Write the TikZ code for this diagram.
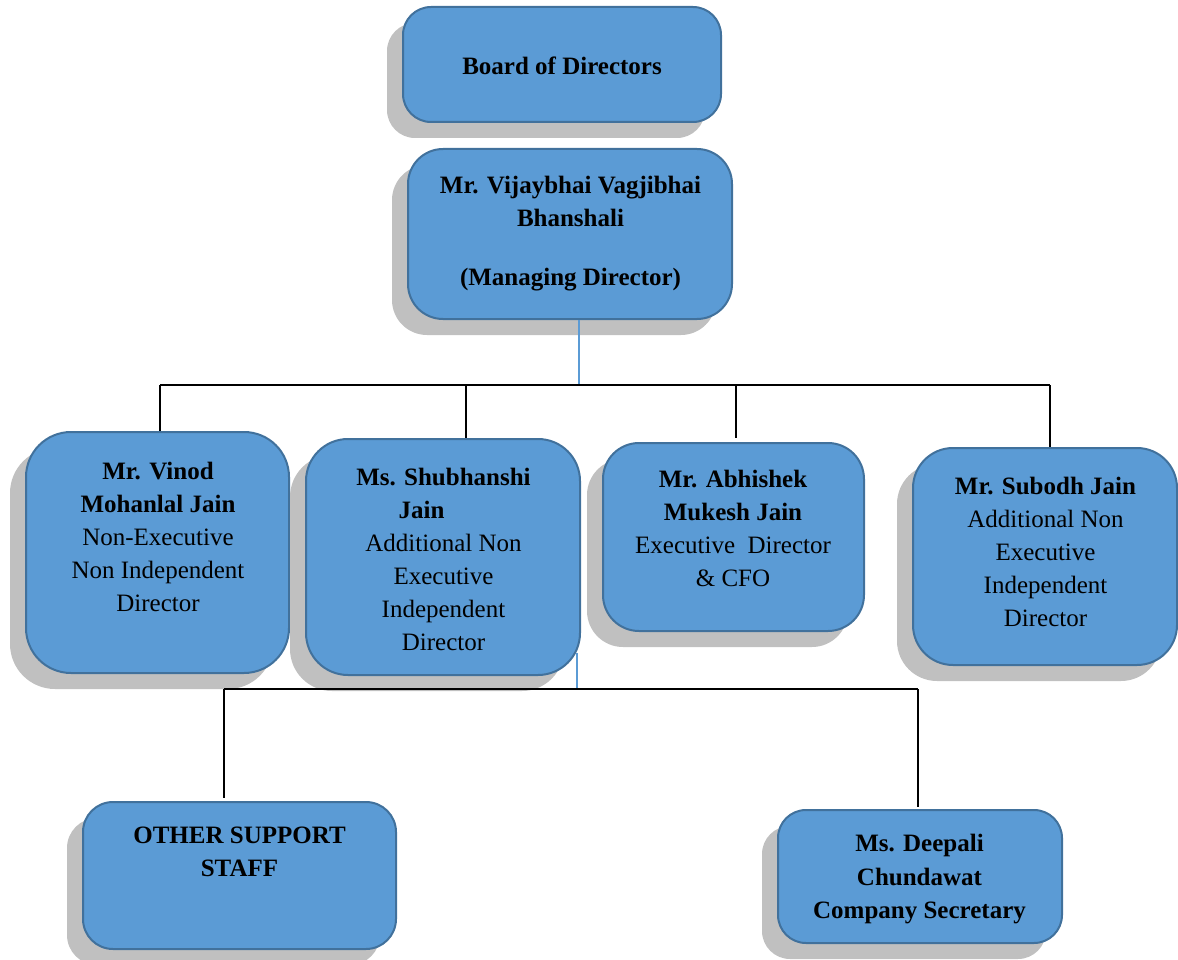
\documentclass[tikz,border=0pt]{standalone}
\usepackage{fontspec}
\setmainfont{Liberation Serif}
\usetikzlibrary{shadows}
\definecolor{boxfill}{HTML}{5B9BD5}
\definecolor{boxedge}{HTML}{41719C}
\definecolor{shadowgray}{HTML}{C0C0C0}
\definecolor{linkblue}{HTML}{5B9BD5}
\newcommand{\firstln}{\rule{0pt}{18pt}}
\tikzset{
  orgbox/.style={draw=boxedge, line width=2pt, fill=boxfill, inner sep=0pt,
    drop shadow={shadow xshift=-16pt, shadow yshift=-16pt, fill=shadowgray, opacity=1}},
  orgtext/.style={anchor=north, inner sep=0pt, align=center, text=black,
    font=\fontsize{25}{33}\selectfont},
  conn/.style={line width=2pt, black},
  thinlink/.style={line width=1.2pt, linkblue}
}
\begin{document}
\begin{tikzpicture}[x=1pt,y=-1pt]
\useasboundingbox (0,0) rectangle (1178,960);
% boxes
\node[orgbox, rounded corners=28pt, minimum width=318pt, minimum height=115pt] (bod) at (562,64.5) {};
\node[orgbox, rounded corners=35pt, minimum width=324pt, minimum height=170pt] (md) at (570,234) {};
\node[orgbox, rounded corners=45pt, minimum width=263pt, minimum height=241pt] (vin) at (157.5,552.5) {};
\node[orgbox, rounded corners=42pt, minimum width=274pt, minimum height=236pt] (shu) at (443,557) {};
\node[orgbox, rounded corners=36pt, minimum width=261pt, minimum height=188pt] (abh) at (733.5,537) {};
\node[orgbox, rounded corners=40pt, minimum width=264pt, minimum height=217pt] (sub) at (1045,556.5) {};
\node[orgbox, rounded corners=30pt, minimum width=313pt, minimum height=147pt] (oth) at (239.5,875.5) {};
\node[orgbox, rounded corners=28pt, minimum width=284pt, minimum height=133pt] (dee) at (920,876.5) {};
% texts
\node[orgtext, font=\fontsize{25}{33}\selectfont\bfseries] (tbod) at (562,56.5) {\firstln Board of Directors};
\node[orgtext, font=\fontsize{25}{33}\selectfont\bfseries] (tmd) at (570.5,175) {\firstln Mr. Vijaybhai Vagjibhai\\ Bhanshali\\[26pt] (Managing Director)};
\node[orgtext] (tvin) at (158,461.5) {\firstln\textbf{Mr. Vinod}\\ \textbf{Mohanlal Jain}\\ Non-Executive\\ Non Independent\\ Director};
\node[orgtext] (tshu) at (443.5,467) {\firstln\textbf{Ms. Shubhanshi}\\ \textbf{Jain}\rule{44pt}{0pt}\\ Additional Non\\ Executive\\ Independent\\ Director};
\node[orgtext] (tabh) at (733,469.5) {\firstln\textbf{Mr. Abhishek}\\ \textbf{Mukesh Jain}\\ Executive\ \ Director\\ \& CFO};
\node[orgtext] (tsub) at (1045.5,476) {\firstln\textbf{Mr. Subodh Jain}\\ Additional Non\\ Executive\\ Independent\\ Director};
\node[orgtext, font=\fontsize{25}{33}\selectfont\bfseries] (toth) at (239.5,825.5) {\firstln OTHER SUPPORT\\ STAFF};
\node[orgtext, font=\fontsize{25}{33.5}\selectfont\bfseries] (tdee) at (919.5,833.5) {\firstln Ms. Deepali\\ Chundawat\\ Company Secretary};
% connector junctions
\coordinate (j1) at (579,385);
\coordinate (barL) at (160,385);
\coordinate (barR) at (1050,385);
\coordinate (d2) at (466,385);
\coordinate (d3) at (736,385);
\coordinate (d3e) at (736,438);
\coordinate (j2t) at (577,653);
\coordinate (j2) at (577,688);
\coordinate (bbL) at (224,689);
\coordinate (bbR) at (918,689);
\coordinate (d5e) at (224,798);
\coordinate (d6e) at (918,807);
% connectors
\draw[thinlink] (j1 |- md.south) -- (j1);
\draw[conn] (barL) -- (barR);
\draw[conn] (barL) -- (barL |- vin.north);
\draw[conn] (d2) -- (d2 |- shu.north);
\draw[conn] (d3) -- (d3e);
\draw[conn] (barR) -- (barR |- sub.north);
\draw[thinlink] (j2t) -- (j2);
\draw[conn] (bbL) -- (bbR);
\draw[conn] (bbL) -- (d5e);
\draw[conn] (bbR) -- (d6e);
\end{tikzpicture}
\end{document}
